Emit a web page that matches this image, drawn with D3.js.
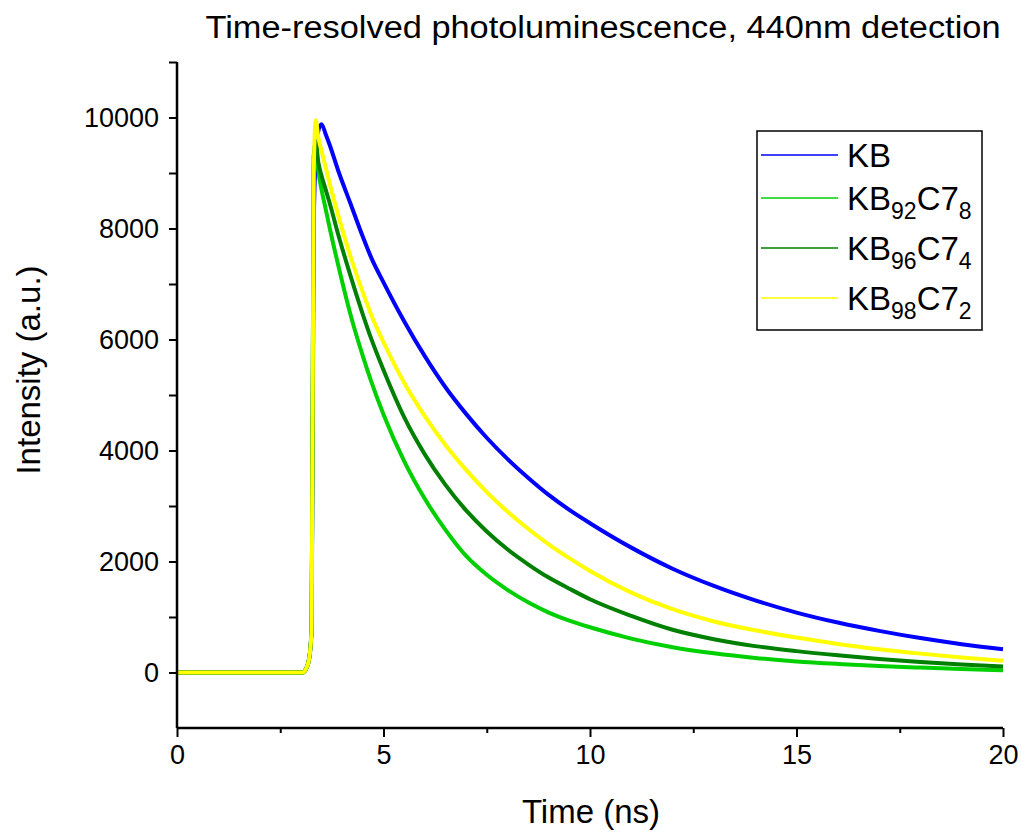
<!DOCTYPE html>
<html>
<head>
<meta charset="utf-8">
<script src="https://cdn.jsdelivr.net/npm/d3@7"></script>
<style>
  body { margin: 0; background: #fff; }
  text { font-family: "Liberation Sans", Arial, sans-serif; fill: #000; }
</style>
</head>
<body>
<div id="chart-container"></div>
<script>
const timeNs = [0, 3.05, 3.12, 3.2, 3.26, 3.31, 3.36, 3.42, 3.5, 3.6, 3.7, 3.9, 4.2, 4.5, 4.7, 5, 5.5, 6, 6.5, 7, 7.5, 8, 8.5, 9, 9.5, 10, 11, 12, 13, 14, 15, 16, 17, 18, 19, 20]

const kb = [0, 0, 60, 250, 800, 8000, 9300, 9750, 9880, 9700, 9500, 9050, 8450, 7850, 7480, 7030, 6330, 5700, 5140, 4660, 4230, 3850, 3510, 3200, 2930, 2690, 2250, 1870, 1560, 1300, 1080, 900, 750, 620, 510, 420]
const kb92c78 = [0, 0, 60, 250, 800, 9100, 9500, 9050, 8700, 8350, 8000, 7350, 6450, 5700, 5250, 4650, 3810, 3130, 2570, 2100, 1760, 1490, 1265, 1080, 935, 815, 610, 455, 345, 262, 200, 155, 118, 88, 62, 42]
const kb96c74 = [0, 0, 60, 250, 800, 9300, 9550, 9200, 8950, 8700, 8450, 7900, 7150, 6450, 6020, 5450, 4600, 3930, 3380, 2920, 2540, 2220, 1950, 1710, 1510, 1320, 1020, 770, 600, 475, 385, 310, 245, 190, 145, 110]
const kb98c72 = [0, 0, 60, 250, 800, 9000, 9950, 9650, 9400, 9100, 8800, 8250, 7500, 6850, 6450, 5950, 5220, 4620, 4100, 3650, 3250, 2900, 2590, 2310, 2060, 1830, 1440, 1140, 920, 760, 630, 515, 420, 340, 270, 210]

// legend names: [base, sub1, mid, sub2]
const seriesNames = [
  ['KB', '', '', ''],
  ['KB', '92', 'C7', '8'],
  ['KB', '96', 'C7', '4'],
  ['KB', '98', 'C7', '2']
]
const seriesColors = ['#0000ff', '#00d000', '#008000', '#ffff00']
const seriesValues = [kb, kb92c78, kb96c74, kb98c72]

const xMajor = [0, 5, 10, 15, 20]
const xMinor = [2.5, 7.5, 12.5, 17.5]
const yMajor = [0, 2000, 4000, 6000, 8000, 10000]
const yMinor = [1000, 3000, 5000, 7000, 9000, 11000]

const width = 1021
const height = 832
const plotLeft = 177, plotRight = 1003, plotTop = 62, plotBottom = 728

const svg = d3.select('#chart-container')
  .append('svg')
  .attr('width', width)
  .attr('height', height)

const x = d3.scaleLinear().domain([0, 20]).range([plotLeft, plotRight])
const y = d3.scaleLinear().domain([-1000, 11000]).range([plotBottom, plotTop])

// curves
const line = d3.line()
  .x(d => x(d[0]))
  .y(d => y(d[1]))
  .curve(d3.curveMonotoneX)

seriesValues.forEach((vals, i) => {
  svg.append('path')
    .datum(timeNs.map((t, j) => [t, vals[j]]))
    .attr('fill', 'none')
    .attr('stroke', seriesColors[i])
    .attr('stroke-width', 4)
    .attr('stroke-linejoin', 'round')
    .attr('d', line)
})

// axes
const xAxis = svg.append('g')
  .attr('transform', `translate(0,${plotBottom})`)
  .call(d3.axisBottom(x).tickValues(xMajor).tickSize(9).tickPadding(8).tickFormat(d3.format('d')))
xAxis.append('g')
  .call(d3.axisBottom(x).tickValues(xMinor).tickSize(5).tickFormat(''))

const yAxis = svg.append('g')
  .attr('transform', `translate(${plotLeft},0)`)
  .call(d3.axisLeft(y).tickValues(yMajor).tickSize(8).tickPadding(10).tickFormat(d3.format('d')))
yAxis.append('g')
  .call(d3.axisLeft(y).tickValues(yMinor).tickSize(8).tickFormat(''))

svg.selectAll('.domain').remove()

// plain axis lines
svg.append('line').attr('x1', plotLeft).attr('x2', plotRight).attr('y1', plotBottom).attr('y2', plotBottom)
  .attr('stroke', '#000').attr('stroke-width', 2.5)
svg.append('line').attr('x1', plotLeft).attr('x2', plotLeft).attr('y1', plotTop).attr('y2', plotBottom)
  .attr('stroke', '#000').attr('stroke-width', 2.5)

svg.selectAll('.tick line').attr('stroke', '#000').attr('stroke-width', 2)
svg.selectAll('.tick text').style('font-size', '27px').style('font-family', '"Liberation Sans", Arial, sans-serif').attr('fill', '#000')

// titles
svg.append('text')
  .attr('x', 603).attr('y', 38)
  .attr('text-anchor', 'middle')
  .attr('textLength', 795)
  .attr('lengthAdjust', 'spacingAndGlyphs')
  .style('font-size', '31px')
  .text('Time-resolved photoluminescence, 440nm detection')

svg.append('text')
  .attr('x', 591).attr('y', 823)
  .attr('text-anchor', 'middle')
  .style('font-size', '33px')
  .text('Time (ns)')

svg.append('text')
  .attr('transform', 'translate(40,370) rotate(-90)')
  .attr('text-anchor', 'middle')
  .style('font-size', '33px')
  .text('Intensity (a.u.)')

// legend
svg.append('rect')
  .attr('x', 757).attr('y', 131).attr('width', 225).attr('height', 199)
  .attr('fill', '#fff').attr('stroke', '#000').attr('stroke-width', 1.5)

const rowY = [155, 198, 248, 298]
seriesNames.forEach((n, i) => {
  const g = svg.append('g').attr('transform', `translate(0,${rowY[i]})`)
  g.append('line').attr('x1', 761).attr('x2', 838).attr('y1', 0).attr('y2', 0)
    .attr('stroke', seriesColors[i]).attr('stroke-width', 1.5)
  const t = g.append('text').attr('x', 847).attr('y', 12).style('font-size', '33px')
  t.append('tspan').text(n[0])
  if (n[1]) {
    t.append('tspan').attr('dy', 9).style('font-size', '23px').text(n[1])
    t.append('tspan').attr('dy', -9).text(n[2])
    t.append('tspan').attr('dy', 9).style('font-size', '23px').text(n[3])
  }
})
</script>
</body>
</html>
